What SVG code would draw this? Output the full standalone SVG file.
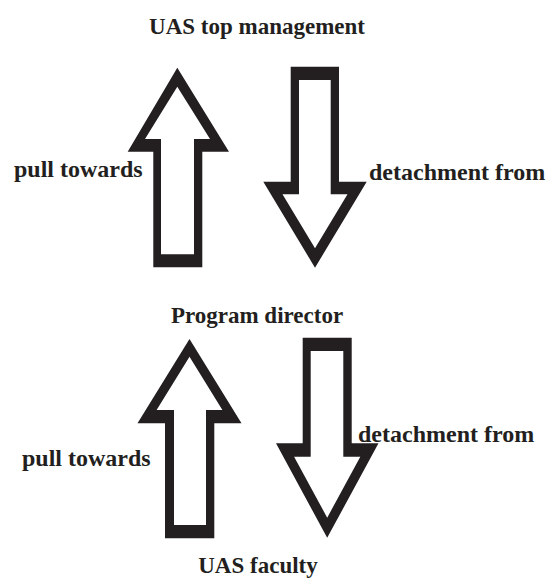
<svg xmlns="http://www.w3.org/2000/svg" width="553" height="581" viewBox="0 0 553 581">
  <style>
    .lbl { font-family: "Liberation Serif", "Times New Roman", serif; font-weight: bold; font-size: 24px; fill: #231f20; }
    .ttl { font-family: "Liberation Serif", "Times New Roman", serif; font-weight: bold; font-size: 23px; fill: #231f20; text-anchor: middle; }
    .arrow { fill: #231f20; fill-rule: evenodd; stroke: none; }
  </style>
  <rect width="553" height="581" fill="#ffffff"/>

  <!-- levels -->
  <g id="top-management">
    <text class="ttl" x="257" y="34">UAS top management</text>
  </g>
  <g id="program-director">
    <text class="ttl" x="257" y="323">Program director</text>
  </g>
  <g id="faculty">
    <text class="ttl" x="258" y="573">UAS faculty</text>
  </g>

  <!-- hollow block arrows between levels, with their labels -->
  <g id="connectors">
    <g id="pull-upper">
      <path class="arrow" d="M177.3,67.7 L229,151.7 L202.3,151.7 L202.3,267.3 L153.3,267.3 L153.3,151.7 L127.7,151.7 Z
                             M177.3,86.7 L145,139 L161,139 L161,254.3 L194,254.3 L194,139 L210,139 Z"/>
      <text class="lbl" x="14" y="177">pull towards</text>
    </g>
    <g id="detach-upper">
      <path class="arrow" d="M290.7,66.7 L339,66.7 L339,181.7 L366.7,181.7 L315,267.7 L263.3,181.7 L290.7,181.7 Z
                             M299,80 L299,194.3 L282.5,194.3 L315,248.3 L347.5,194.3 L330.7,194.3 L330.7,80 Z"/>
      <text class="lbl" x="369" y="180">detachment from</text>
    </g>
    <g id="pull-lower">
      <path class="arrow" d="M189.5,339 L241.5,423.3 L214.3,423.3 L214.3,538.3 L165,538.3 L165,423.3 L137.5,423.3 Z
                             M189.5,356.7 L156.6,410 L174,410 L174,525 L206,525 L206,410 L222.4,410 Z"/>
      <text class="lbl" x="22" y="466">pull towards</text>
    </g>
    <g id="detach-lower">
      <path class="arrow" d="M302.7,337.7 L351.7,337.7 L351.7,443.3 L378.5,443.3 L327.2,537.8 L276,443.3 L302.7,443.3 Z
                             M310.7,351 L310.7,456.7 L294.1,456.7 L327.2,517.7 L360.3,456.7 L343.3,456.7 L343.3,351 Z"/>
      <text class="lbl" x="358" y="442">detachment from</text>
    </g>
  </g>
</svg>
